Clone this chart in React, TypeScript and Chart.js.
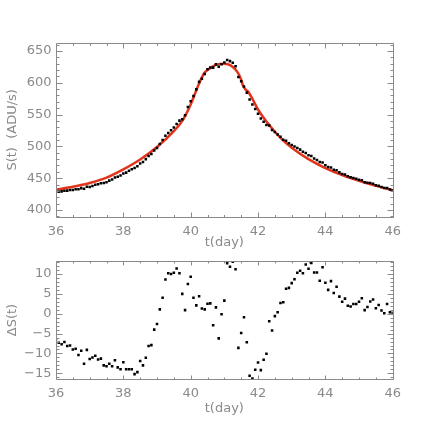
import React, { useEffect, useRef } from "react";
import { Chart, registerables } from "chart.js";
Chart.register(...registerables);

const T = [
  36.0, 36.083, 36.167, 36.25, 36.333, 36.417, 36.5, 36.583, 36.667, 36.75, 36.833, 36.917,
  37.0, 37.083, 37.167, 37.25, 37.333, 37.417, 37.5, 37.583, 37.667, 37.75, 37.833, 37.917,
  38.0, 38.083, 38.167, 38.25, 38.333, 38.417, 38.5, 38.583, 38.667, 38.75, 38.833, 38.917,
  39.0, 39.083, 39.167, 39.25, 39.333, 39.417, 39.5, 39.583, 39.667, 39.75, 39.833, 39.917,
  40.0, 40.083, 40.167, 40.25, 40.333, 40.417, 40.5, 40.583, 40.667, 40.75, 40.833, 40.917,
  41.0, 41.083, 41.167, 41.25, 41.333, 41.417, 41.5, 41.583, 41.667, 41.75, 41.833, 41.917,
  42.0, 42.083, 42.167, 42.25, 42.333, 42.417, 42.5, 42.583, 42.667, 42.75, 42.833, 42.917,
  43.0, 43.083, 43.167, 43.25, 43.333, 43.417, 43.5, 43.583, 43.667, 43.75, 43.833, 43.917,
  44.0, 44.083, 44.167, 44.25, 44.333, 44.417, 44.5, 44.583, 44.667, 44.75, 44.833, 44.917,
  45.0, 45.083, 45.167, 45.25, 45.333, 45.417, 45.5, 45.583, 45.667, 45.75, 45.833, 45.917,
  46.0,
];

const S = [
  428.5, 428.7, 429.3, 430.4, 430.5, 431.4, 431.5, 432.7, 432.7, 434.4, 433.5, 436.5,
  436.2, 437.8, 439.6, 440.5, 442.0, 442.5, 443.7, 446.2, 448.1, 451.1, 452.2, 454.2,
  457.3, 458.8, 461.6, 464.1, 465.9, 468.9, 473.0, 475.5, 480.0, 484.8, 488.0, 493.7,
  497.6, 503.8, 509.9, 516.6, 521.1, 525.5, 529.7, 535.3, 540.5, 542.8, 548.8, 561.8,
  571.1, 579.2, 589.6, 601.4, 606.4, 613.9, 621.4, 624.0, 623.8, 628.9, 625.3, 629.2,
  631.8, 635.8, 634.0, 631.5, 626.0, 609.0, 602.3, 594.1, 584.5, 573.7, 566.0, 558.7,
  551.2, 543.9, 538.7, 533.5, 532.9, 525.8, 522.7, 518.7, 515.0, 510.6, 509.0, 505.1,
  502.2, 499.9, 497.6, 494.9, 491.7, 489.7, 486.2, 484.8, 481.0, 478.7, 475.4, 474.6,
  470.3, 467.5, 466.8, 463.4, 462.4, 459.2, 456.7, 455.7, 453.1, 451.5, 450.4, 449.0,
  447.7, 446.8, 443.8, 442.9, 442.4, 441.3, 438.8, 438.1, 436.1, 434.6, 434.6, 432.3,
  431.1,
];

const DS = [
  -6.4, -7.3, -7.7, -7.1, -8.1, -8.0, -9.0, -8.8, -10.4, -9.3, -12.6, -9.1,
  -11.4, -11.0, -10.6, -11.5, -11.3, -13.0, -13.2, -12.6, -13.2, -11.7, -13.5, -14.0,
  -12.2, -14.0, -14.0, -14.0, -15.2, -14.7, -11.9, -13.0, -11.1, -8.1, -7.9, -4.0,
  -2.6, 1.1, 4.0, 8.6, 10.2, 10.0, 10.3, 11.4, 10.2, 5.0, 0.9, 7.5,
  9.3, 4.0, 2.1, 4.4, 1.3, 1.1, 2.5, 2.6, -2.9, 1.6, -6.2, -0.15,
  3.3, 12.7, 11.8, 13.1, 11.2, -8.6, -4.85, -0.9, -7.2, -15.6, -16.3, -14.1,
  -12.3, -14.2, -11.6, -10.05, -1.9, -4.2, -0.6, 0.35, 2.7, 2.9, 6.3, 6.5,
  7.7, 8.7, 10.3, 10.8, 10.2, 12.4, 11.3, 12.8, 10.4, 10.4, 8.3, 11.7,
  7.8, 6.0, 8.2, 5.2, 6.8, 4.3, 3.0, 3.8, 2.0, 1.8, 2.45, 2.45,
  3.0, 3.9, 0.9, 1.7, 3.1, 3.6, 1.4, 2.2, 0.8, 0.1, 2.45, 0.35,
  0.27,
];

const FIT_T = [36, 36.5, 37, 37.5, 38, 38.5, 39, 39.5, 39.75, 40, 40.25, 40.4, 40.5, 40.75, 41, 41.2, 41.4, 41.5, 41.55, 41.62, 41.7, 41.85, 42, 42.25, 42.5, 42.75, 43, 43.5, 44, 44.5, 45, 45.5, 46];
const FIT_S = [432, 436.5, 442.5, 451, 464, 479.5, 499, 524, 540, 566, 599, 615, 620, 628, 630, 627, 616, 605, 596, 590, 586.5, 573, 558, 539, 523, 509, 498, 480, 466, 455, 446, 438, 431];

const X_TICKS = [36, 38, 40, 42, 44, 46];
const S_TICKS = [400, 450, 500, 550, 600, 650];
const DS_TICKS = [-15, -10, -5, 0, 5, 10];

const GRAY = "#8a8a8a";
const FONT = "'DejaVu Sans', sans-serif";

const framePlugin = {
  id: "frameTicks",
  afterDatasetsDraw(chart: any, _args: any, opts: any) {
    const { ctx, chartArea: a, scales } = chart;
    const xs = scales.x;
    const ys = scales.y;
    const L = Math.round(a.left) + 0.5;
    const R = Math.round(a.right) + 0.5;
    const Tp = Math.round(a.top) + 0.5;
    const B = Math.round(a.bottom) + 0.5;
    ctx.save();
    ctx.strokeStyle = GRAY;
    ctx.lineWidth = 1;
    ctx.beginPath();
    ctx.rect(L, Tp, R - L, B - Tp);
    ctx.stroke();
    ctx.beginPath();
    const xMinor = opts.xMinor;
    for (let v = xs.min; v <= xs.max + 1e-6; v += xMinor) {
      const major = opts.xMajor.some((m: number) => Math.abs(m - v) < 1e-6);
      const len = major ? opts.xLen : opts.xLen / 2;
      const px = Math.round(xs.getPixelForValue(v)) + 0.5;
      ctx.moveTo(px, B);
      ctx.lineTo(px, B - len);
      ctx.moveTo(px, Tp);
      ctx.lineTo(px, Tp + len);
    }
    const yMinor = opts.yMinor;
    const start = Math.ceil(ys.min / yMinor - 1e-6) * yMinor;
    for (let v = start; v <= ys.max + 1e-6; v += yMinor) {
      const major = opts.yMajor.some((m: number) => Math.abs(m - v) < 1e-6);
      const len = major ? opts.yLen : opts.yLen / 2;
      const py = Math.round(ys.getPixelForValue(v)) + 0.5;
      ctx.moveTo(L, py);
      ctx.lineTo(L + len, py);
      ctx.moveTo(R, py);
      ctx.lineTo(R - len, py);
    }
    ctx.stroke();
    ctx.restore();
  },
};

function makeScales(opts: {
  yMin: number; yMax: number; yTicks: number[]; yTitle: string; xHeight: number;
}) {
  return {
    x: {
      type: "linear",
      min: 36,
      max: 46,
      afterBuildTicks: (s: any) => { s.ticks = X_TICKS.map((value) => ({ value })); },
      afterFit: (s: any) => { s.height = opts.xHeight; },
      grid: { display: false, drawTicks: false },
      border: { display: false },
      ticks: {
        color: GRAY,
        font: { family: FONT, size: 13 },
        padding: 7,
        maxRotation: 0,
        callback: (v: any) => String(v),
      },
      title: {
        display: true,
        text: "t(day)",
        color: GRAY,
        font: { family: FONT, size: 13 },
        padding: { top: 0, bottom: 0 },
      },
    },
    y: {
      type: "linear",
      min: opts.yMin,
      max: opts.yMax,
      afterBuildTicks: (s: any) => { s.ticks = opts.yTicks.map((value) => ({ value })); },
      afterFit: (s: any) => { s.width = 56; },
      grid: { display: false, drawTicks: false },
      border: { display: false },
      ticks: {
        color: GRAY,
        font: { family: FONT, size: 13 },
        padding: 4.5,
        callback: (v: any) => (v < 0 ? "\u2212" + Math.abs(v) : String(v)),
      },
      title: {
        display: true,
        text: opts.yTitle,
        color: GRAY,
        font: { family: FONT, size: 13 },
        padding: { top: 5, bottom: 0 },
      },
    },
  };
}

export default function App() {
  const topRef = useRef<HTMLCanvasElement | null>(null);
  const botRef = useRef<HTMLCanvasElement | null>(null);

  useEffect(() => {
    const top = new Chart(topRef.current as HTMLCanvasElement, {
      type: "scatter",
      data: {
        datasets: [
          {
            type: "line",
            data: FIT_T.map((x, i) => ({ x, y: FIT_S[i] })),
            borderColor: "#e2341c",
            borderWidth: 2.5,
            pointRadius: 0,
            cubicInterpolationMode: "monotone",
            fill: false,
            order: 2,
          } as any,
          {
            type: "scatter",
            data: T.map((x, i) => ({ x, y: S[i] })),
            backgroundColor: "#000000",
            borderWidth: 0,
            pointStyle: "rect",
            pointRadius: 1.8,
            order: 1,
          } as any,
        ],
      },
      options: {
        animation: false,
        responsive: false,
        devicePixelRatio: 1,
        layout: { padding: { left: 0, top: 43, right: 43.3, bottom: 185.3 } },
        plugins: {
          legend: { display: false },
          tooltip: { enabled: false },
          frameTicks: { xMinor: 0.5, xMajor: X_TICKS, xLen: 5, yMinor: 10, yMajor: S_TICKS, yLen: 6 },
        } as any,
        scales: makeScales({ yMin: 389.5, yMax: 662.5, yTicks: S_TICKS, yTitle: "S(t)  (ADU/s)", xHeight: 34 }) as any,
      },
      plugins: [framePlugin],
    });

    const bot = new Chart(botRef.current as HTMLCanvasElement, {
      type: "scatter",
      data: {
        datasets: [
          {
            data: T.map((x, i) => ({ x, y: DS[i] })),
            backgroundColor: "#000000",
            borderWidth: 0,
            pointStyle: "rect",
            pointRadius: 1.8,
          } as any,
        ],
      },
      options: {
        animation: false,
        responsive: false,
        devicePixelRatio: 1,
        layout: { padding: { left: 0, top: 261, right: 43.3, bottom: 19.2 } },
        plugins: {
          legend: { display: false },
          tooltip: { enabled: false },
          frameTicks: { xMinor: 0.5, xMajor: X_TICKS, xLen: 4, yMinor: 1, yMajor: DS_TICKS, yLen: 6 },
        } as any,
        scales: makeScales({ yMin: -16.43, yMax: 13.27, yTicks: DS_TICKS, yTitle: "\u0394S(t)", xHeight: 37.8 }) as any,
      },
      plugins: [framePlugin],
    });

    return () => {
      top.destroy();
      bot.destroy();
    };
  }, []);

  const cs: React.CSSProperties = { position: "absolute", left: 0, top: 0, width: 436, height: 436 };
  return (
    <div style={{ position: "fixed", left: 0, top: 0, width: 436, height: 436, background: "#fff" }}>
      <canvas ref={topRef} width={436} height={436} style={cs} />
      <canvas ref={botRef} width={436} height={436} style={cs} />
    </div>
  );
}
